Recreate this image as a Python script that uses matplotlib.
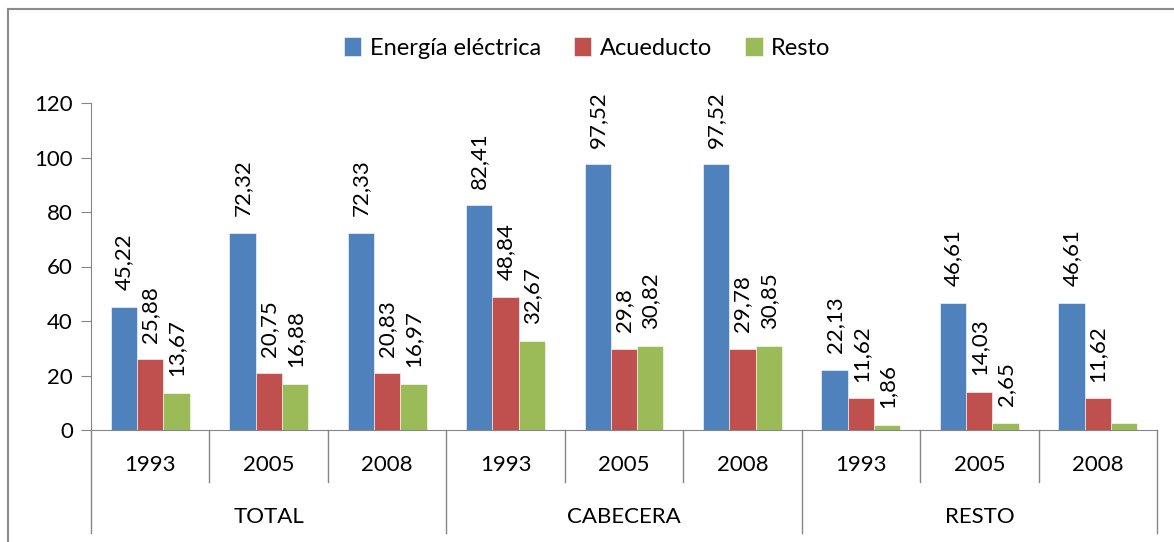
import numpy as np
import matplotlib.pyplot as plt
from matplotlib.lines import Line2D

plt.rcParams['font.family'] = ['Lato', 'DejaVu Sans']

years = ['1993', '2005', '2008'] * 3
groups = ['TOTAL', 'CABECERA', 'RESTO']
series = ['Energía eléctrica', 'Acueducto', 'Resto']
energia = [45.22, 72.32, 72.33, 82.41, 97.52, 97.52, 22.13, 46.61, 46.61]
acueducto = [25.88, 20.75, 20.83, 48.84, 29.8, 29.78, 11.62, 14.03, 11.62]
resto = [13.67, 16.88, 16.97, 32.67, 30.82, 30.85, 1.86, 2.65, 2.65]
# the last bar has no label in the original
resto_labels = ['13,67', '16,88', '16,97', '32,67', '30,82', '30,85', '1,86', '2,65', None]
colors = ['#4F81BD', '#C0504D', '#9BBB59']
fs = 16

fig = plt.figure(figsize=(11.74, 5.42), dpi=100)
ax = fig.add_axes([91 / 1174, 1 - 430 / 542, 1066 / 1174, 327 / 542])

x = np.arange(len(years)) + 0.5
w = 0.222
data = [energia, acueducto, resto]
for k, vals in enumerate(data):
    pos = x + (k - 1) * w
    ax.bar(pos, vals, w, color=colors[k], edgecolor='white', linewidth=0.4,
           label=series[k])
    for j, v in enumerate(vals):
        if k == 2:
            txt = resto_labels[j]
        else:
            txt = ('%g' % v).replace('.', ',')
        if txt is None:
            continue
        ax.annotate(txt, (pos[j], v), xytext=(0, 12), textcoords='offset points',
                    rotation=90, ha='center', va='bottom', fontsize=fs)

ax.set_xlim(0, 9)
ax.set_ylim(0, 120)
ax.set_yticks(range(0, 121, 20))
ax.tick_params(axis='y', length=7, color='#868686', labelsize=fs, pad=6)
ax.set_xticks([])
for s in ['top', 'right']:
    ax.spines[s].set_visible(False)
for s in ['left', 'bottom']:
    ax.spines[s].set_color('#868686')

# multi-level category axis
trans = ax.get_xaxis_transform()
for i in range(10):
    depth = -0.315 if i % 3 == 0 else -0.159
    ax.plot([i, i], [0, depth], color='#868686', lw=1, transform=trans, clip_on=False)
for j, yr in enumerate(years):
    ax.text(x[j], -0.107, yr, transform=trans, ha='center', va='center', fontsize=fs)
for g, name in enumerate(groups):
    ax.text(g * 3 + 1.5, -0.266, name, transform=trans, ha='center', va='center', fontsize=fs)

fig.legend(loc='center', bbox_to_anchor=(0.5, 1 - 48 / 542), ncol=3, frameon=False,
           fontsize=17, handlelength=0.75, handleheight=0.85, columnspacing=1.4,
           handletextpad=0.35)

# chart border (left and top edges visible)
fig.add_artist(Line2D([8 / 1174, 8 / 1174], [0, 1 - 9 / 542], color='#8c8c8c', lw=1.5))
fig.add_artist(Line2D([8 / 1174, 1], [1 - 9 / 542, 1 - 9 / 542], color='#8c8c8c', lw=1.5))

fig.savefig('out.png', dpi=100)
